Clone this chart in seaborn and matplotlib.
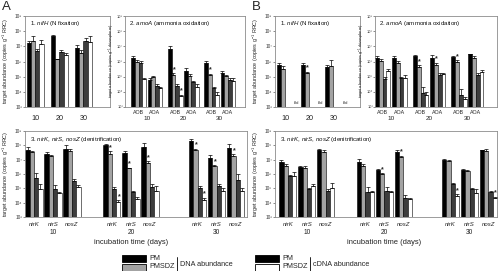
import numpy as np
import pandas as pd
import matplotlib
matplotlib.use("Agg")
import matplotlib.pyplot as plt
import matplotlib.transforms as mtrans
from matplotlib.patches import Rectangle
from matplotlib.lines import Line2D
from matplotlib.ticker import NullLocator
import seaborn as sns

sns.set_theme(style="white")
plt.rcParams['font.family'] = ['Liberation Sans', 'DejaVu Sans']
plt.rcParams['mathtext.fontset'] = 'custom'
plt.rcParams['mathtext.rm'] = 'Liberation Sans'
plt.rcParams['mathtext.it'] = 'Liberation Sans:italic'
plt.rcParams['mathtext.bf'] = 'Liberation Sans:bold'

# ---------------- data (log10 copies) ----------------
SERIES = ["PM DNA", "PMSDZ DNA", "PM cDNA", "PMSDZ cDNA"]
COLORS = ["#000000", "#a3a3a3", "#3d3d3d", "#ffffff"]
days = ["10", "20", "30"]
amoa_groups = ["AOB", "AOA"]
genes = ["nirK", "nirS", "nosZ"]
nan = np.nan

# A1 nifH (per day)
a1_pm_dna = [7.25, 7.66, 6.92]
a1_sdz_dna = [7.37, 6.14, 6.58]
a1_pm_cdna = [6.70, 6.65, 7.37]
a1_sdz_cdna = [7.14, 6.43, 7.30]
a1_err = [[0.10, 0.12, 0.20], [0.28, 0.05, 0.15], [0.10, 0.12, 0.20], [0.25, 0.10, 0.40]]
a1_star = [[], [], [], []]

# A2 amoA (AOB10, AOA10, AOB20, AOA20, AOB30, AOA30)
a2_pm_dna = [6.25, 4.79, 6.81, 5.40, 5.87, 5.24]
a2_sdz_dna = [5.98, 4.97, 5.13, 5.06, 5.13, 5.06]
a2_pm_cdna = [5.87, 4.39, 4.39, 4.68, 4.24, 4.79]
a2_sdz_cdna = [4.84, 4.28, 3.72, 4.30, 3.79, 4.73]
a2_err = [[0.10, 0.12, 0.20, 0.20, 0.15, 0.15], [0.10, 0.05, 0.10, 0.10, 0.05, 0.05],
          [0.15, 0.10, 0.15, 0.05, 0.10, 0.10], [0.05, 0.05, 0.10, 0.20, 0.20, 0.15]]
a2_star = [[], [2, 4], [], [2]]

# A3 nirK/nirS/nosZ (10,10,10,20,20,20,30,30,30)
a3_pm_dna = [7.70, 7.38, 7.77, 8.00, 7.47, 7.88, 8.30, 7.15, 7.84]
a3_sdz_dna = [7.54, 7.24, 7.59, 7.42, 6.39, 6.80, 7.65, 6.55, 7.24]
a3_pm_cdna = [5.74, 4.94, 5.51, 4.96, 4.75, 5.12, 5.00, 5.17, 5.58]
a3_sdz_cdna = [4.94, 4.66, 5.07, 4.08, 4.24, 4.84, 4.20, 4.84, 4.84]
a3_err = [[0.15, 0.15, 0.25, 0.10, 0.15, 0.30, 0.15, 0.20, 0.25],
          [0.05, 0.10, 0.15, 0.15, 0.05, 0.10, 0.10, 0.05, 0.15],
          [0.30, 0.30, 0.15, 0.10, 0.05, 0.15, 0.15, 0.10, 0.40],
          [0.35, 0.05, 0.15, 0.10, 0.15, 0.30, 0.15, 0.15, 0.20]]
a3_star = [[], [3, 4, 5, 6, 7, 8], [], [3, 6]]

# B1 nifH (cDNA below detection limit)
b1_pm_dna = [5.76, 5.80, 5.64]
b1_sdz_dna = [5.51, 5.24, 5.73]
b1_pm_cdna = [nan, nan, nan]
b1_sdz_cdna = [nan, nan, nan]
b1_err = [[0.12, 0.10, 0.10], [0.20, 0.10, 0.35], [0, 0, 0], [0, 0, 0]]
b1_star = [[], [1], [], []]
bld_label = "bld"

# B2 amoA
b2_pm_dna = [6.25, 6.25, 6.36, 6.25, 6.31, 6.47]
b2_sdz_dna = [6.02, 5.91, 5.64, 5.80, 5.98, 6.25]
b2_pm_cdna = [4.86, 4.91, 3.90, 5.13, 3.79, 5.13]
b2_sdz_cdna = [5.35, 4.91, 3.79, 5.17, 3.56, 5.31]
b2_err = [[0.08, 0.08, 0.10, 0.15, 0.08, 0.05], [0.15, 0.10, 0.10, 0.10, 0.10, 0.10],
          [0.10, 0.10, 0.45, 0.10, 0.40, 0.10], [0.15, 0.20, 0.20, 0.10, 0.10, 0.15]]
b2_star = [[], [2, 3, 4], [], []]

# B3
b3_pm_dna = [6.85, 6.50, 7.70, 6.85, 6.27, 7.54, 6.96, 6.27, 7.65]
b3_sdz_dna = [6.55, 6.39, 7.54, 6.55, 6.00, 7.19, 6.90, 6.20, 7.59]
b3_pm_cdna = [5.86, 4.94, 4.84, 4.77, 4.82, 4.31, 5.30, 4.94, 4.77]
b3_sdz_cdna = [5.86, 5.17, 5.05, 4.77, 4.77, 4.24, 4.47, 4.66, 4.31]
b3_err = [[0.10, 0.05, 0.05, 0.20, 0.05, 0.10, 0.10, 0.05, 0.05],
          [0.15, 0.15, 0.10, 0.15, 0.05, 0.10, 0.10, 0.10, 0.15],
          [0.05, 0.05, 0.10, 0.30, 0.30, 0.20, 0.10, 0.10, 0.05],
          [0.30, 0.15, 0.30, 0.05, 0.05, 0.10, 0.10, 0.30, 0.10]]
b3_star = [[], [4, 5], [], [6, 8]]

ytick_exp = [3, 4, 5, 6, 7, 8, 9]
SUP = {3: "\u00b3", 4: "\u2074", 5: "\u2075", 6: "\u2076", 7: "\u2077", 8: "\u2078", 9: "\u2079"}

# ---------------- layout ----------------
W, H = 499, 271
fig = plt.figure(figsize=(W / 100, H / 100), dpi=100)


def px_axes(x0, y0, x1, y1):
    return fig.add_axes([x0 / W, 1 - y1 / H, (x1 - x0) / W, (y1 - y0) / H])


def fy(ypx):
    return 1 - ypx / H


def fx(xpx):
    return xpx / W


def draw_panel(ax, positions, series, errs, stars, width, xlim, ticksize=3.4, ticklen=1.5,
               tickpad=0.5):
    rows = []
    for name, logs in zip(SERIES, series):
        for p, v in zip(positions, logs):
            if not np.isnan(v):
                rows.append({"pos": p, "series": name, "copies": 10 ** v})
    df = pd.DataFrame(rows)
    ax.set_yscale("log")
    sns.barplot(data=df, x="pos", y="copies", hue="series", hue_order=SERIES,
                palette=COLORS, native_scale=True, width=width, errorbar=None,
                edgecolor="black", linewidth=0.4, legend=False, ax=ax, dodge=True,
                saturation=1)
    for cont, logs, er, st in zip(ax.containers, series, errs, stars):
        valid = [i for i, v in enumerate(logs) if not np.isnan(v)]
        for bar, i in zip(cont.patches, valid):
            xc = bar.get_x() + bar.get_width() / 2
            top = bar.get_height()
            up = top * (10 ** er[i] - 1)
            ax.errorbar([xc], [top], yerr=[[0], [up]], fmt="none", ecolor="black",
                        elinewidth=0.5, capsize=1.3, capthick=0.5, zorder=5)
            if i in st:
                ax.text(xc + 0.03 * width, top * 10 ** (er[i] + 0.02), "*", ha="center",
                        va="bottom", fontsize=5, fontweight="bold", zorder=6)
    ax.set_ylim(10 ** 3, 10 ** 9)
    ax.set_xlim(*xlim)
    ax.set_yticks([10.0 ** e for e in ytick_exp])
    ax.set_yticklabels(["10" + SUP[e] for e in ytick_exp])
    ax.yaxis.set_minor_locator(NullLocator())
    ax.set_xticks([])
    ax.set_xlabel("")
    ax.set_ylabel("")
    ax.tick_params(axis="y", length=ticklen, width=0.4, pad=tickpad, labelsize=ticksize,
                   colors="#333333", left=True)
    for s in ax.spines.values():
        s.set_color("#8c8c8c")
        s.set_linewidth(0.6)
    ax.set_facecolor("white")


def xlabel_text(ax, x, ypx, s, size, **kw):
    tr = mtrans.blended_transform_factory(ax.transData, fig.transFigure)
    ax.text(x, fy(ypx), s, transform=tr, ha="center", va="center", fontsize=size,
            color="#222222", clip_on=False, **kw)


nif_pos = [0, 1, 2]
amoa_gap = 2.25
amoa_pos = [g * amoa_gap + j for g in range(3) for j in range(2)]
den_offsets = [0, 4.1, 8.6]
den_pos = [den_offsets[g] + j for g in range(3) for j in range(3)]

ylab_rrc = r"target abundance (copies g$^{-1}$ RRC)"
ylab_rhizo = r"target abundance (copies g$^{-1}$ rhizosphere)"

# ---- Panel A ----
axA1 = px_axes(25, 16, 110, 107)
draw_panel(axA1, nif_pos, [a1_pm_dna, a1_sdz_dna, a1_pm_cdna, a1_sdz_cdna], a1_err, a1_star,
           0.7, (-0.42, 3.1))
axA2 = px_axes(125, 16, 245, 107)
draw_panel(axA2, amoa_pos, [a2_pm_dna, a2_sdz_dna, a2_pm_cdna, a2_sdz_cdna], a2_err, a2_star,
           0.9, (-0.85, 6.55), ticksize=2.8, ticklen=1.2, tickpad=0.3)
axA3 = px_axes(25, 131, 247, 217)
draw_panel(axA3, den_pos, [a3_pm_dna, a3_sdz_dna, a3_pm_cdna, a3_sdz_cdna], a3_err, a3_star,
           0.9, (-0.47, 11.2))

# ---- Panel B ----
axB1 = px_axes(275, 16, 360, 107)
draw_panel(axB1, nif_pos, [b1_pm_dna, b1_sdz_dna, b1_pm_cdna, b1_sdz_cdna], b1_err, b1_star,
           0.7, (-0.42, 3.1))
axB2 = px_axes(375, 16, 497, 107)
draw_panel(axB2, amoa_pos, [b2_pm_dna, b2_sdz_dna, b2_pm_cdna, b2_sdz_cdna], b2_err, b2_star,
           0.9, (-0.45, 6.75), ticksize=2.8, ticklen=1.2, tickpad=0.3)
axB3 = px_axes(275, 131, 497, 217)
draw_panel(axB3, den_pos, [b3_pm_dna, b3_sdz_dna, b3_pm_cdna, b3_sdz_cdna], b3_err, b3_star,
           0.9, (-0.68, 11.05))

# bld labels in B1
for p in nif_pos:
    axB1.text(p + 0.48, 10 ** 3.12, bld_label, ha="center", va="bottom",
              fontsize=3, color="#333333")

for ax in (axA1, axB1):
    for p, d in zip(nif_pos, days):
        xlabel_text(ax, p, 118, d, 5.2)
for ax in (axA2, axB2):
    for p, gname in zip(amoa_pos, amoa_groups * 3):
        xlabel_text(ax, p, 112, gname, 3.8)
    for g, d in enumerate(days):
        xlabel_text(ax, g * amoa_gap + 0.5, 119, d, 4.6)
for ax in (axA3, axB3):
    for p, gname in zip(den_pos, genes * 3):
        xlabel_text(ax, p, 224, gname, 4.3, style="italic")
    for g, d in enumerate(days):
        xlabel_text(ax, den_offsets[g] + 1, 232, d, 4.8)
    xlabel_text(ax, den_offsets[1] + 1, 243, "incubation time (days)", 5.4)

# titles inside panels
for xo, x2 in ((0, 129), (250, 379)):
    fig.text(fx(xo + 30), fy(24), r"1. $\it{nifH}$ (N fixation)", fontsize=4.4,
             va="center", ha="left", color="#111111")
    fig.text(fx(x2), fy(24), r"2. $\it{amoA}$ (ammonia oxidation)",
             fontsize=4.4, va="center", ha="left", color="#111111")
    fig.text(fx(xo + 30), fy(139), r"3. $\it{nirK}$, $\it{nirS}$, $\it{nosZ}$ (denitrification)",
             fontsize=4.4, va="center", ha="left", color="#111111")
    fig.text(fx(xo + 6), fy(61), ylab_rrc, rotation=90, fontsize=3.9, va="center",
             ha="center", color="#222222")
    fig.text(fx(xo + 6), fy(174), ylab_rrc, rotation=90, fontsize=3.9, va="center",
             ha="center", color="#222222")
fig.text(fx(112.0), fy(61), ylab_rhizo, rotation=90, fontsize=2.8, va="center", ha="center",
         color="#222222")
fig.text(fx(362.0), fy(61), ylab_rhizo, rotation=90, fontsize=2.8, va="center", ha="center",
         color="#222222")

fig.text(fx(2), fy(7), "A", fontsize=9.5, va="center", ha="left")
fig.text(fx(252), fy(7), "B", fontsize=9.5, va="center", ha="left")

# legends
legend_specs = [
    (122, COLORS[0], COLORS[1], "DNA abundance"),
    (255, COLORS[0], COLORS[3], "cDNA abundance"),
]
for x0, c_top, c_bot, lab in legend_specs:
    fig.add_artist(Rectangle((fx(x0), fy(262)), 24 / W, 7 / H, transform=fig.transFigure,
                             facecolor=c_top, edgecolor="black", lw=0.6))
    fig.add_artist(Rectangle((fx(x0), fy(270.5)), 24 / W, 7 / H, transform=fig.transFigure,
                             facecolor=c_bot, edgecolor="black", lw=0.6))
    fig.text(fx(x0 + 27), fy(258.5), "PM", fontsize=5.2, va="center", ha="left")
    fig.text(fx(x0 + 27), fy(267), "PMSDZ", fontsize=5.2, va="center", ha="left")
    fig.add_artist(Line2D([fx(x0 + 55), fx(x0 + 55)], [fy(257), fy(271)],
                          transform=fig.transFigure, color="black", lw=0.6))
    fig.text(fx(x0 + 58), fy(264), lab, fontsize=5.2, va="center", ha="left")

fig.savefig("out.png", dpi=100)
